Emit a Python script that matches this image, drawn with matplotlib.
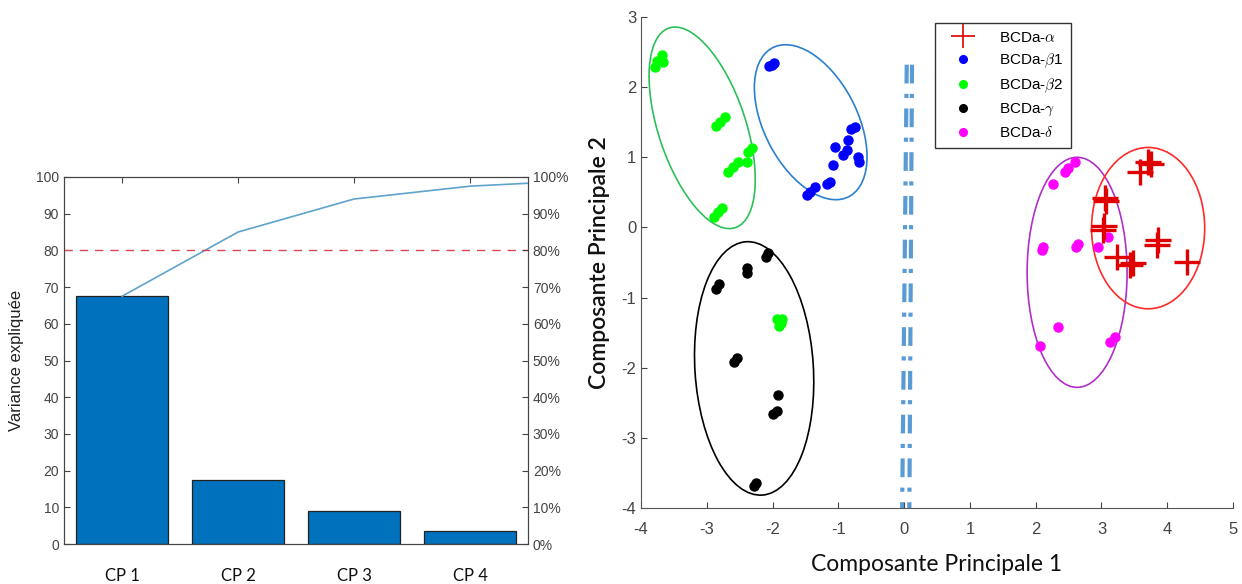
import numpy as np
import matplotlib
matplotlib.use('Agg')
import matplotlib.pyplot as plt
from matplotlib.patches import Ellipse

plt.rcParams['font.family'] = ['Liberation Sans', 'DejaVu Sans']
plt.rcParams['mathtext.fontset'] = 'cm'
plt.rcParams['axes.unicode_minus'] = False

# --- Pareto (left) ---
components = ['CP 1', 'CP 2', 'CP 3', 'CP 4', 'CP 5']
variance = [67.5, 17.5, 9.0, 3.5, 1.6]
threshold = 80

# --- PCA scores (right) ---
alpha_x = [3.71, 3.58, 3.76, 3.05, 3.07, 3.04, 3.02, 3.23, 3.43, 3.48, 3.86, 3.84, 4.30]
alpha_y = [0.93, 0.79, 0.90, 0.42, 0.38, 0.02, -0.03, -0.42, -0.54, -0.50, -0.18, -0.25, -0.49]

beta1_x = [-2.05, -1.98, -2.01, -0.80, -0.74, -0.85, -1.05, -0.87, -0.93, -0.70, -0.69,
           -1.08, -1.13, -1.17, -1.36, -1.43, -1.48]
beta1_y = [2.30, 2.35, 2.32, 1.40, 1.43, 1.25, 1.15, 1.10, 1.03, 1.00, 0.93,
           0.89, 0.65, 0.62, 0.57, 0.50, 0.46]

beta2_x = [-3.79, -3.68, -3.67, -3.75, -2.86, -2.72, -2.80, -2.60, -2.53, -2.68, -2.37,
           -2.39, -2.31, -2.83, -2.77, -2.89, -1.93, -1.87, -1.90, -1.85]
beta2_y = [2.29, 2.46, 2.36, 2.37, 1.45, 1.57, 1.50, 0.86, 0.93, 0.79, 1.07,
           0.93, 1.13, 0.22, 0.28, 0.15, -1.31, -1.36, -1.40, -1.30]

gamma_x = [-2.07, -2.10, -2.39, -2.39, -2.81, -2.86, -2.54, -2.59, -1.92, -1.93, -1.99, -2.28, -2.25]
gamma_y = [-0.37, -0.42, -0.58, -0.65, -0.81, -0.88, -1.86, -1.92, -2.39, -2.61, -2.66, -3.69, -3.65]

delta_x = [2.60, 2.49, 2.44, 2.26, 2.11, 2.09, 2.64, 2.61, 2.95, 3.10, 2.34, 2.06, 3.13, 3.20]
delta_y = [0.93, 0.85, 0.79, 0.62, -0.28, -0.32, -0.24, -0.28, -0.28, -0.14, -1.42, -1.69, -1.64, -1.56]

# ellipses: centre x, centre y, width, height, angle, colour
ellipses = [
    (-3.07, 1.42, 3.02, 1.32, -70, '#2cbf5a'),
    (-1.42, 1.50, 2.42, 1.40, -60, '#2a7fcf'),
    (-2.28, -2.01, 1.80, 3.62, 4, 'black'),
    (2.63, -0.64, 1.52, 3.28, 0, '#b030c8'),
    (3.71, -0.01, 1.72, 2.30, 0, '#ff2a2a'),
]

# separator lines (two dash-dot lines)
sep1_x = [0.04, -0.03]
sep2_x = [0.12, 0.08]
sep_y = [2.32, -4.0]

fig = plt.figure(figsize=(12.42, 5.84), dpi=100)

# ================= left: pareto =================
ax1 = fig.add_axes([64 / 1242, 1 - 544 / 584, (528 - 64) / 1242, (544 - 177) / 584])
pos = np.arange(1, len(variance) + 1)
ax1.bar(pos, variance, width=0.8, color='#0072bd', edgecolor='#222222', linewidth=0.9, zorder=2)
ax1.plot(pos, np.cumsum(variance), color='#5fa3cc', linewidth=1.2, zorder=3)
ax1.axhline(threshold, color='#d9475a', linestyle=(0, (6, 5)), linewidth=1.0, zorder=3)
ax1.set_xlim(0.5, 4.5)
ax1.set_ylim(0, 100)
ax1.set_yticks(np.arange(0, 101, 10))
ax1.set_xticks(pos[:4])
ax1.set_xticklabels(components[:4], family=['Lato', 'DejaVu Sans'], fontsize=12, color='#111111')
ax1.tick_params(axis='x', direction='in', pad=17, length=4, top=True, color='#444444')
ax1.tick_params(axis='y', direction='in', labelsize=10, labelcolor='#444444', color='#444444', length=4)
ax1.set_ylabel('Variance expliquée', fontsize=12, color='#222222', labelpad=9)
for s in ax1.spines.values():
    s.set_color('#444444')

ax1r = ax1.twinx()
ax1r.set_ylim(0, 100)
ax1r.set_yticks(np.arange(0, 101, 10))
ax1r.set_yticklabels([f'{v}%' for v in range(0, 101, 10)])
ax1r.tick_params(axis='y', direction='in', labelsize=10, labelcolor='#444444', color='#444444', length=4)
for s in ax1r.spines.values():
    s.set_color('#444444')

# ================= right: PCA scatter =================
ax2 = fig.add_axes([641 / 1242, 1 - 508 / 584, (1233 - 641) / 1242, (508 - 17) / 584])
ax2.plot(alpha_x, alpha_y, '+', color='#e00000', markersize=19, markeredgewidth=2.4,
         label=r'BCDa-$\alpha$', zorder=4)
ax2.plot(beta1_x, beta1_y, 'o', color='#0000ff', markersize=6.5, label=r'BCDa-$\beta$1', zorder=3)
ax2.plot(beta2_x, beta2_y, 'o', color='#00ff00', markersize=6.5, label=r'BCDa-$\beta$2', zorder=3)
ax2.plot(gamma_x, gamma_y, 'o', color='black', markersize=6.5, label=r'BCDa-$\gamma$', zorder=3)
ax2.plot(delta_x, delta_y, 'o', color='#ff00ff', markersize=6.5, label=r'BCDa-$\delta$', zorder=3)

for cx, cy, w, h, ang, col in ellipses:
    ax2.add_patch(Ellipse((cx, cy), w, h, angle=ang, fill=False, edgecolor=col, linewidth=1.2, zorder=2))

for sx in (sep1_x, sep2_x):
    ax2.plot(sx, sep_y, color='#5b9bd5', linewidth=3, linestyle=(0, (4.5, 2.5, 1, 2.5)), zorder=1)

ax2.set_xlim(-4, 5)
ax2.set_ylim(-4, 3)
ax2.set_xticks(np.arange(-4, 6, 1))
ax2.set_yticks(np.arange(-4, 4, 1))
ax2.spines['top'].set_visible(False)
ax2.spines['right'].set_visible(False)
for s in ('left', 'bottom'):
    ax2.spines[s].set_color('#555555')
ax2.tick_params(direction='in', labelsize=12, labelcolor='#444444', color='#444444', length=4)
ax2.tick_params(axis='x', pad=10)
ax2.set_xlabel('Composante Principale 1', family=['Lato', 'DejaVu Sans'], fontsize=16.5,
               color='#111111', labelpad=12)
ax2.set_ylabel('Composante Principale 2', family=['Lato', 'DejaVu Sans'], fontsize=16.5,
               color='#111111', labelpad=8, fontweight='semibold')

leg = ax2.legend(loc='upper left', bbox_to_anchor=(0.497, 0.988), borderaxespad=0, fontsize=11,
                 frameon=True, fancybox=False, edgecolor='#333333', framealpha=1, borderpad=0.5,
                 labelspacing=0.45, handlelength=2.6, handletextpad=1.1)
leg.get_frame().set_linewidth(1.0)
for h in leg.legend_handles:
    if h.get_marker() == 'o':
        h.set_markersize(5.5)
    else:
        h.set_markersize(17)
        h.set_markeredgewidth(1.2)

fig.savefig('out.png', dpi=100)
